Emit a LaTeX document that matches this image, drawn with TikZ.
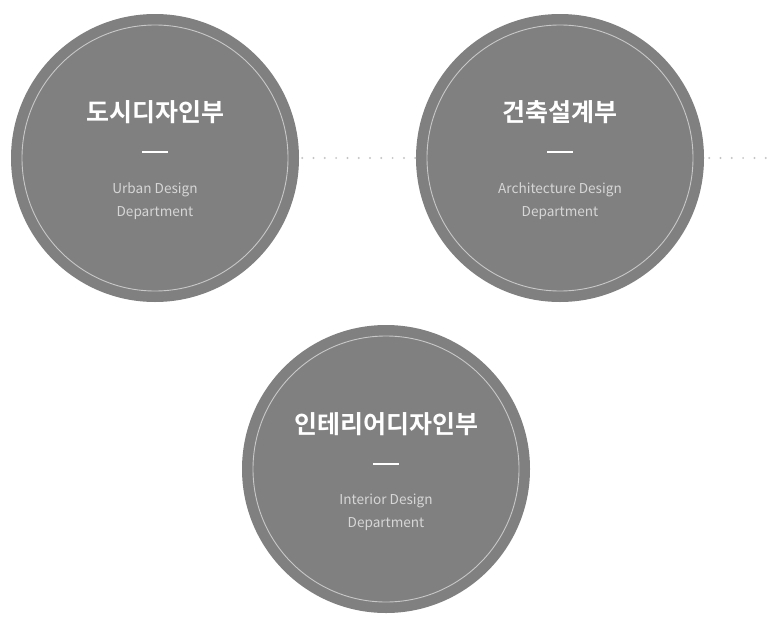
\documentclass[tikz,border=0pt]{standalone}
\usepackage{fontspec}
\setmainfont{Noto Sans CJK KR}[BoldFont={Noto Sans CJK KR Bold}]
\usetikzlibrary{calc}
\definecolor{discc}{HTML}{808080}
\definecolor{ringc}{HTML}{C8C8C8}
\definecolor{engc}{HTML}{D6D6D6}
\definecolor{dotc}{HTML}{C4C4C4}
\begin{document}
\begin{tikzpicture}[x=1pt,y=-1pt]
\tikzstyle{dept}=[fill=discc, draw=none, shape=circle, minimum size=288pt, inner sep=0pt]
\tikzstyle{ringo}=[draw=ringc, line width=0.9pt, shape=circle, minimum size=266pt, inner sep=0pt]
\tikzstyle{ttl}=[text=white, font=\fontsize{25}{29}\selectfont\bfseries, inner sep=0pt]
\tikzstyle{bar}=[fill=white, draw=none, minimum width=26pt, minimum height=1.2pt, inner sep=0pt]
\tikzstyle{eng}=[text=engc, font=\fontsize{13.6}{23}\selectfont, align=center, inner sep=0pt]
\tikzstyle{dotline}=[draw=dotc, line width=2.2pt, line cap=round, dash pattern=on 0pt off 11.3pt]
\useasboundingbox (0,0) rectangle (773,629);
%
\node[dept](urban) at (155,158){};
\node[ringo](urbanring) at (155,158){};
\node[ttl](urbanttl) at (155,112){도시디자인부};
\node[bar](urbanbar) at (155,152){};
\node[eng](urbaneng) at (155,201){Urban Design\\Department};
%
\node[dept](arch) at (560,158){};
\node[ringo](archring) at (560,158){};
\node[ttl](archttl) at (560,112){건축설계부};
\node[bar](archbar) at (560,152){};
\node[eng](archeng) at (560,201){Architecture Design\\Department};
%
\node[dept](inter) at (386,469){};
\node[ringo](interring) at (386,469){};
\node[ttl](interttl) at (386,424){인테리어디자인부};
\node[bar](interbar) at (386,464){};
\node[eng](intereng) at (386,512){Interior Design\\Department};
%
\coordinate (rightend) at (773,158);
\draw[dotline, shorten <=3pt] (urban) -- (arch);
\draw[dotline, shorten <=5pt] (arch) -- (rightend);
%
\end{tikzpicture}
\end{document}
